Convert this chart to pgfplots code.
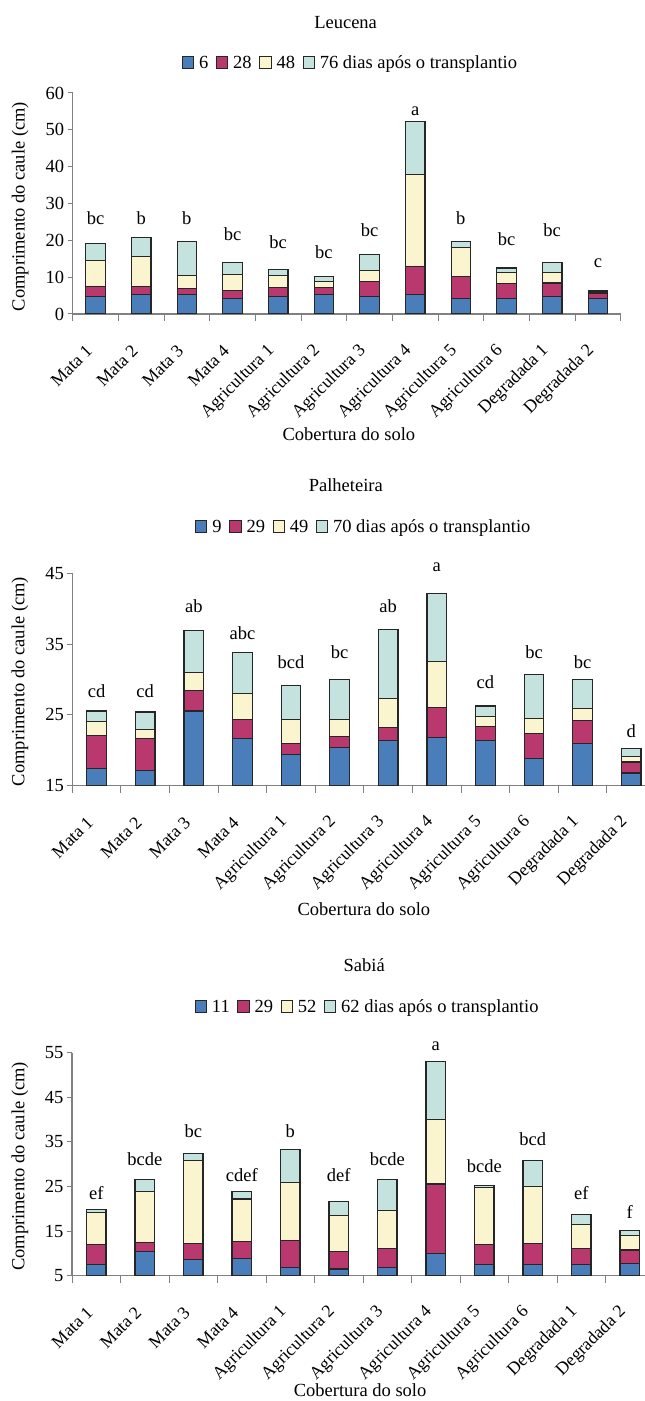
\documentclass[border=0pt]{standalone}
\usepackage{fontspec}
\setmainfont{Liberation Serif}
\usepackage{pgfplots}
\pgfplotsset{compat=1.18}
\usepackage{pgfplotstable}
\definecolor{cblue}{RGB}{74,126,187}
\definecolor{cred}{RGB}{185,56,110}
\definecolor{cyel}{RGB}{250,245,207}
\definecolor{ccya}{RGB}{196,226,222}
\definecolor{bline}{RGB}{38,38,38}
\definecolor{agray}{RGB}{128,128,128}

\pgfplotstableread{
x a b c d
0 4.8 7.5 14.6 19.1
1 5.3 7.5 15.7 20.7
2 5.3 6.9 10.5 19.6
3 4.2 6.4 10.8 13.9
4 4.8 7.1 10.5 12.1
5 5.3 7.1 8.9 10.2
6 4.8 8.9 11.9 16.2
7 5.3 12.8 37.9 52.3
8 4.2 10.1 18.0 19.6
9 4.2 8.2 11.2 12.5
10 4.8 8.4 11.2 13.9
11 4.2 5.7 6.1 6.4
}\leuc

\pgfplotstableread{
x a b c d
0 17.4 22.1 24.1 25.55
1 17.2 21.7 22.9 25.4
2 25.55 28.5 31.0 36.9
3 21.7 24.3 28.0 33.8
4 19.4 21.0 24.3 29.2
5 20.4 22.0 24.4 30.0
6 21.4 23.2 27.3 37.1
7 21.8 26.05 32.55 42.1
8 21.4 23.35 24.8 26.25
9 18.8 22.4 24.45 30.75
10 21.0 24.2 25.85 29.95
11 16.8 18.35 19.15 20.2
}\palh

\pgfplotstableread{
x a b c d
0 7.5 12.0 19.1 19.9
1 10.5 12.4 23.8 26.6
2 8.7 12.25 30.8 32.4
3 8.9 12.6 22.2 23.8
4 6.8 12.9 25.9 33.3
5 6.5 10.5 18.5 21.7
6 6.8 11.05 19.7 26.6
7 9.9 25.55 40.05 53.1
8 7.5 12.0 24.7 25.3
9 7.5 12.25 25.0 30.8
10 7.5 11.1 16.4 18.8
11 7.7 10.75 14.1 15.2
}\sabi

\pgfplotsset{
  every axis title shift=0pt,
  panel/.style={
    scale only axis, anchor=south west,
    font=\fontsize{18.5bp}{22bp}\selectfont,
    /pgf/number format/assume math mode=true,
    xmin=-0.5, xmax=11.5,
    axis lines*=left,
    axis line style={agray, line width=1.2bp},
    tick align=outside, tick pos=left,
    tick style={agray, line width=1bp},
    major tick length=5bp,
    xtick={0,...,11},
    xticklabels={Mata 1, Mata 2, Mata 3, Mata 4, Agricultura 1, Agricultura 2, Agricultura 3, Agricultura 4, Agricultura 5, Agricultura 6, Degradada 1, Degradada 2},
    xtick style={draw=none},
    xticklabel style={font=\fontsize{17.8bp}{21bp}\selectfont, xshift=-4bp, yshift=-26.5bp, rotate=45, anchor=east},
    extra x ticks={-0.5,0.5,...,11.5},
    extra x tick labels={},
    extra x tick style={major tick length=7bp, xtick style={draw=agray, line width=1bp}},
    ylabel={Comprimento do caule (cm)},
    xlabel={Cobertura do solo},
    clip mode=individual,
    area legend,
    legend columns=4,
    reverse legend,
    legend image code/.code={\draw[#1,draw=bline,line width=1bp] (0bp,-6bp) rectangle (11.3bp,6.5bp);},
    legend style={draw=none, fill=none, anchor=center,
      nodes={inner sep=1bp},
      /tikz/every even column/.append style={column sep=6.5bp},
      /tikz/every odd column/.append style={column sep=4bp}},
  },
  bars/.style={ybar, bar shift=0pt, bar width=19.5bp, draw=bline, line width=1.2bp},
}

\begin{document}
\begin{tikzpicture}
% ---------- Leucena ----------
\begin{axis}[panel,
  at={(72.7bp,1087bp)}, width=548bp, height=221bp,
  ymin=0, ymax=60, ytick={0,10,...,60},
  title={Leucena}, title style={at={(axis description cs:0.498,1.317)}, anchor=center},
  legend style={at={(axis description cs:0.506,1.136)}},
  ylabel style={at={(axis description cs:-0.096,0.486)}, anchor=center},
  xlabel style={at={(axis description cs:0.504,-0.543)}, anchor=center},
]
\addplot[bars, fill=ccya] table[x=x,y=d]{\leuc};
\addplot[bars, fill=cyel] table[x=x,y=c]{\leuc};
\addplot[bars, fill=cred] table[x=x,y=b]{\leuc};
\addplot[bars, fill=cblue] table[x=x,y=a]{\leuc};
\legend{76 dias após o transplantio,48,28,6}
\node at (axis cs:0,26) {bc};
\node at (axis cs:1,26) {b};
\node at (axis cs:2,26) {b};
\node at (axis cs:3,21.6) {bc};
\node at (axis cs:4,19.4) {bc};
\node at (axis cs:5,16.7) {bc};
\node at (axis cs:6,22.8) {bc};
\node at (axis cs:7,55) {a};
\node at (axis cs:8,26.1) {b};
\node at (axis cs:9,20.2) {bc};
\node at (axis cs:10,22.8) {bc};
\node at (axis cs:11,13.7) {c};
\end{axis}
% ---------- Palheteira ----------
\begin{axis}[panel,
  at={(72.3bp,615.3bp)}, width=583.2bp, height=212.4bp,
  ymin=15, ymax=45, ytick={15,25,35,45},
  title={Palheteira}, title style={at={(axis description cs:0.469,1.416)}, anchor=center},
  legend style={at={(axis description cs:0.499,1.219)}},
  ylabel style={at={(axis description cs:-0.0897,0.49)}, anchor=center},
  xlabel style={at={(axis description cs:0.5,-0.58)}, anchor=center},
]
\addplot[bars, fill=ccya] table[x=x,y=d]{\palh};
\addplot[bars, fill=cyel] table[x=x,y=c]{\palh};
\addplot[bars, fill=cred] table[x=x,y=b]{\palh};
\addplot[bars, fill=cblue] table[x=x,y=a]{\palh};
\legend{70 dias após o transplantio,49,29,9}
\node at (axis cs:0,28.4) {cd};
\node at (axis cs:1,28.4) {cd};
\node at (axis cs:2,40.4) {ab};
\node at (axis cs:3,36.5) {abc};
\node at (axis cs:4,32.5) {bcd};
\node at (axis cs:5,33.9) {bc};
\node at (axis cs:6,40.4) {ab};
\node at (axis cs:7,45.9) {a};
\node at (axis cs:8,29.6) {cd};
\node at (axis cs:9,33.9) {bc};
\node at (axis cs:10,32.5) {bc};
\node at (axis cs:11,22.7) {d};
\end{axis}
% ---------- Sabia ----------
\begin{axis}[panel,
  at={(72bp,125.3bp)}, width=582bp, height=223bp,
  ymin=5, ymax=55, ytick={5,15,...,55},
  title={Sabiá}, title style={at={(axis description cs:0.502,1.393)}, anchor=center},
  legend style={at={(axis description cs:0.507,1.206)}},
  ylabel style={at={(axis description cs:-0.0893,0.49)}, anchor=center},
  xlabel style={at={(axis description cs:0.495,-0.513)}, anchor=center},
]
\addplot[bars, fill=ccya] table[x=x,y=d]{\sabi};
\addplot[bars, fill=cyel] table[x=x,y=c]{\sabi};
\addplot[bars, fill=cred] table[x=x,y=b]{\sabi};
\addplot[bars, fill=cblue] table[x=x,y=a]{\sabi};
\legend{62 dias após o transplantio,52,29,11}
\node at (axis cs:0,23.5) {ef};
\node at (axis cs:1,31.1) {bcde};
\node at (axis cs:2,37.3) {bc};
\node at (axis cs:3,27.6) {cdef};
\node at (axis cs:4,37.3) {b};
\node at (axis cs:5,27.6) {def};
\node at (axis cs:6,31.1) {bcde};
\node at (axis cs:7,56.5) {a};
\node at (axis cs:8,29.6) {bcde};
\node at (axis cs:9,35.5) {bcd};
\node at (axis cs:10,23.5) {ef};
\node at (axis cs:11,19.2) {f};
\end{axis}
\pgfresetboundingbox
\useasboundingbox (0bp,0bp) rectangle (645bp,1401bp);
\end{tikzpicture}
\end{document}
